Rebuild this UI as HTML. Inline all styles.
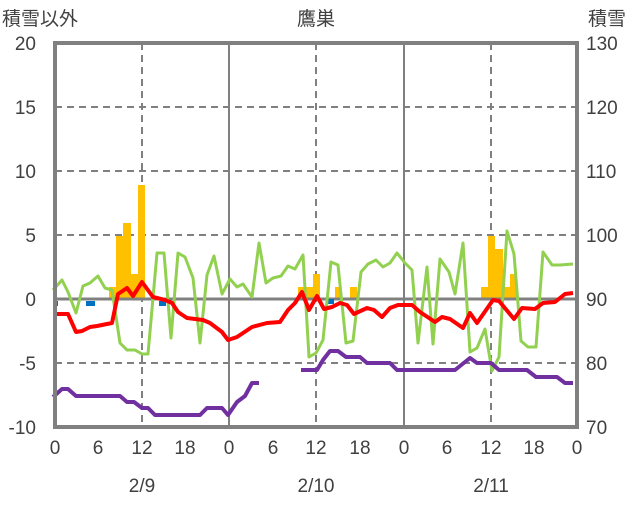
<!DOCTYPE html>
<html><head><meta charset="utf-8"><style>
body{margin:0;background:#fff}
svg text{font-family:"Liberation Sans","Noto Sans CJK JP",sans-serif;fill:#404040;font-size:19px}
</style></head><body>
<svg width="636" height="501" viewBox="0 0 636 501" xmlns="http://www.w3.org/2000/svg">
<g stroke="#808080" stroke-width="2" stroke-dasharray="7,5" fill="none">
<line x1="55" y1="107" x2="577" y2="107"/><line x1="55" y1="171" x2="577" y2="171"/>
<line x1="55" y1="235" x2="577" y2="235"/><line x1="55" y1="363" x2="577" y2="363"/>
<line x1="142" y1="43" x2="142" y2="427"/><line x1="316" y1="43" x2="316" y2="427"/><line x1="491" y1="43" x2="491" y2="427"/>
</g>
<g stroke="#808080" stroke-width="2" fill="none">
<line x1="229" y1="43" x2="229" y2="427"/><line x1="404" y1="43" x2="404" y2="427"/>
</g>
<g fill="#FFC000">
<rect x="109" y="287" width="7" height="12"/><rect x="116" y="236" width="7" height="63"/><rect x="123" y="223" width="8" height="76"/><rect x="131" y="274" width="7" height="25"/><rect x="138" y="185" width="7" height="114"/>
<rect x="298" y="287" width="15" height="12"/><rect x="313" y="274" width="7" height="25"/><rect x="335" y="287" width="6" height="12"/><rect x="350" y="287" width="7" height="12"/>
<rect x="481" y="287" width="7" height="12"/><rect x="488" y="236" width="7" height="63"/><rect x="495" y="249" width="8" height="50"/><rect x="503" y="287" width="7" height="12"/><rect x="510" y="274" width="6" height="25"/>
</g>
<line x1="55" y1="299" x2="577" y2="299" stroke="#808080" stroke-width="3"/>
<g fill="#0070C0">
<rect x="54" y="301" width="4" height="5"/><rect x="86" y="301" width="9" height="5"/><rect x="159" y="301" width="7" height="5"/><rect x="328" y="299" width="6" height="5"/>
</g>
<g fill="none" stroke-width="3" stroke-linejoin="round">
<polyline stroke="#92D050" points="53,290 62,280 68,292 76,313 83,286 90,283 98,276 105,288 112,290 120,343 127,350 135,350 142,354 148,354 157,253 164,253 171,338 178,253 185,257 193,278 200,343 207,275 214,256 222,294 230,279 237,287 243,284 252,297 259,243 266,283 273,278 281,276 288,266 295,269 303,255 309,357 316,353 323,340 331,262 338,265 346,343 353,341 361,272 368,264 376,260 383,267 390,263 397,253 405,263 412,270 418,343 427,267 433,344 440,259 449,272 455,294 463,243 470,352 477,348 485,329 492,371 499,357 507,231 514,254 521,341 528,347 536,347 543,252 552,265 560,265 573,264"/>
<polyline stroke="#FF0000" stroke-width="4" points="53,314 68,314 76,332 82,331 90,327 97,326 112,323 118,294 127,288 133,296 142,282 153,297 165,300 172,303 178,312 187,318 203,320 210,323 222,332 228,340 237,337 252,327 267,323 280,322 288,310 295,303 302,292 309,310 317,296 324,309 332,307 340,303 347,305 354,314 367,308 374,310 382,317 390,308 398,305 412,305 420,312 435,322 442,317 450,319 463,328 470,313 477,323 493,300 499,301 514,319 522,308 535,309 543,303 555,302 565,294 573,293"/>
<polyline stroke="#7030A0" stroke-width="4" points="53,397 62,389 68,389 76,396 120,396 127,402 134,402 142,408 148,408 155,415 200,415 207,408 222,408 228,415 237,402 245,396 252,383 259,383"/>
<polyline stroke="#7030A0" stroke-width="4" points="301,370 317,370 323,360 330,351 338,351 346,357 360,357 367,363 390,363 397,370 455,370 470,358 477,363 491,363 499,370 527,370 536,377 557,377 565,383 573,383"/>
</g>
<rect x="55" y="43" width="522" height="384" fill="none" stroke="#808080" stroke-width="4"/>
<g text-anchor="end">
<text x="36" y="50">20</text><text x="36" y="114">15</text><text x="36" y="178">10</text><text x="36" y="242">5</text><text x="36" y="306">0</text><text x="36" y="370">-5</text><text x="36" y="434">-10</text>
</g>
<g text-anchor="start">
<text x="586" y="50">130</text><text x="586" y="114">120</text><text x="586" y="178">110</text><text x="586" y="242">100</text><text x="586" y="306">90</text><text x="586" y="370">80</text><text x="586" y="434">70</text>
</g>
<g text-anchor="middle">
<text x="55" y="454">0</text><text x="98" y="454">6</text><text x="142" y="454">12</text><text x="185" y="454">18</text>
<text x="229" y="454">0</text><text x="273" y="454">6</text><text x="316" y="454">12</text><text x="360" y="454">18</text>
<text x="404" y="454">0</text><text x="447" y="454">6</text><text x="491" y="454">12</text><text x="534" y="454">18</text><text x="577" y="454">0</text>
<text x="142" y="492">2/9</text><text x="316" y="492">2/10</text><text x="491" y="492">2/11</text>
<text x="316" y="25">鷹巣</text>
</g>
<text x="2" y="25">積雪以外</text>
<text x="588" y="25">積雪</text>
</svg>
</body></html>
